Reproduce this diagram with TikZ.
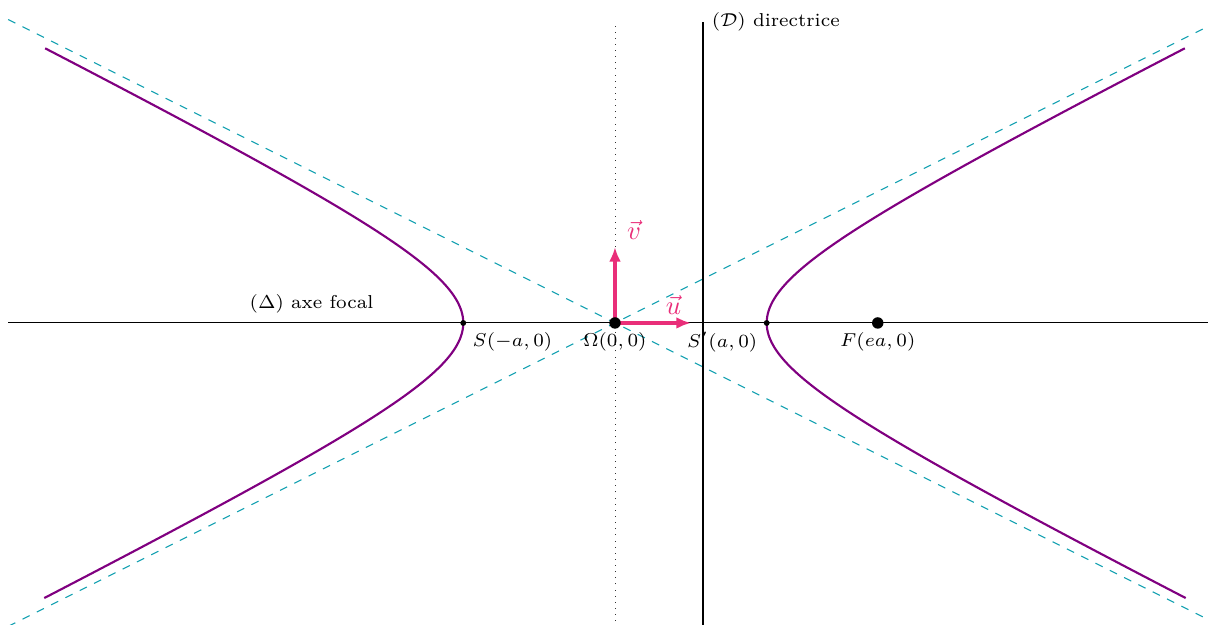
\documentclass[tikz,border=0pt]{standalone}
\usetikzlibrary{arrows.meta}
\definecolor{vecpink}{RGB}{233,46,121}
\definecolor{asymcol}{RGB}{23,162,178}
\definecolor{hypcol}{RGB}{128,0,128}
\begin{document}
\begin{tikzpicture}[x=1cm,y=1cm,
  lbl/.style={font=\scriptsize},
  hyp/.style={hypcol,thick},
  asym/.style={asymcol,dashed},
  axisline/.style={black},
  dirline/.style={black,thick},
  midline/.style={black!80,line width=0.3pt,dotted},
  vecarrow/.style={vecpink,line width=1.3pt,-{Latex[length=5.4pt,width=4.4pt]}},
  veclbl/.style={vecpink,font=\normalsize},
  bigdot/.style={circle,fill=black,inner sep=0pt,minimum size=4.3pt},
  smalldot/.style={circle,fill=black,inner sep=0pt,minimum size=2.2pt}]
\useasboundingbox (-8.108,-3.982) rectangle (7.818,4.258);
% points
\coordinate (O) at (0,0);
\coordinate (S) at (-2,0);
\coordinate (Sp) at (2,0);
\coordinate (F) at ({2*sqrt(3)},0);
\coordinate (AL) at (-8,0);
\coordinate (AR) at (7.818,0);
\coordinate (Dt) at ({2/sqrt(3)},3.97);
\coordinate (Db) at ({2/sqrt(3)},-4);
\coordinate (Mt) at (0,3.93);
\coordinate (Mb) at (0,-3.93);
\coordinate (A1s) at (-8,4);
\coordinate (A1e) at (7.75,-3.875);
\coordinate (A2s) at (-8,-4);
\coordinate (A2e) at (7.75,3.875);
\coordinate (U) at (1,0);
\coordinate (V) at (0,1);
% lines
\draw[midline] (Mb) -- (Mt);
\draw[axisline] (AL) -- (AR);
\draw[asym] (A1s) -- (A1e);
\draw[asym] (A2s) -- (A2e);
% hyperbola branches
\draw[hyp] plot[domain=-2:2,samples=120,smooth] ({2*cosh(\x)},{sinh(\x)});
\draw[hyp] plot[domain=-2:2,samples=120,smooth] ({-2*cosh(\x)},{sinh(\x)});
% directrix
\draw[dirline] (Db) -- (Dt);
% vectors
\draw[vecarrow] (O) -- (U);
\draw[vecarrow] (O) -- (V);
\node[veclbl] (ulbl) at (0.77,0.24) {$\vec{u}$};
\node[veclbl] (vlbl) at (0.25,1.23) {$\vec{v}$};
% dots
\node[bigdot] (Odot) at (O) {};
\node[bigdot] (Fdot) at (F) {};
\node[smalldot] (Sdot) at (S) {};
\node[smalldot] (Spdot) at (Sp) {};
% labels
\node[lbl,above] (axlbl) at (-4,0) {$(\Delta)$ axe focal};
\node[lbl,below right] (Slbl) at (S) {$S(-a,0)$};
\node[lbl,below] (Olbl) at (O) {$\Omega(0,0)$};
\node[lbl,below left] (Splbl) at (Sp) {$S'(a,0)$};
\node[lbl,below] (Flbl) at (F) {$F(ea,0)$};
\node[lbl,right] (Dlbl) at (Dt) {$(\mathcal{D})$ directrice};
\end{tikzpicture}
\end{document}
